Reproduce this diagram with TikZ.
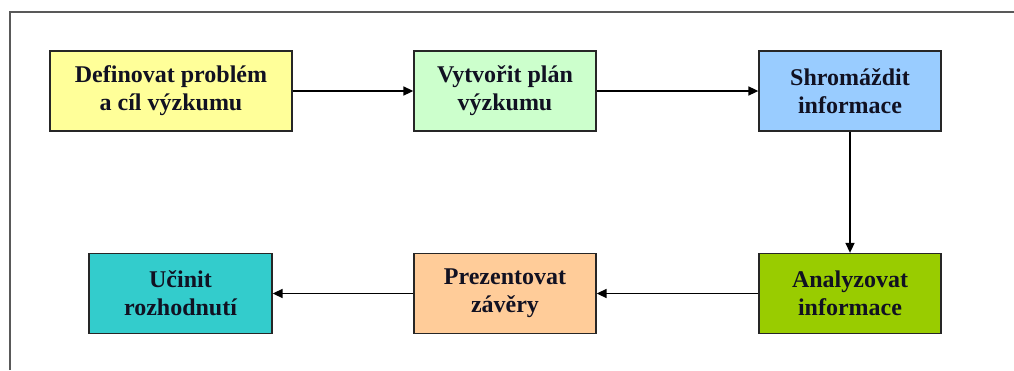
\documentclass[tikz,border=0pt]{standalone}
\usepackage{fontspec}
\setmainfont{Liberation Serif}
\usetikzlibrary{arrows.meta}
\definecolor{cyel}{HTML}{FFFF99}
\definecolor{cgrn}{HTML}{CCFFCC}
\definecolor{cblu}{HTML}{99CCFF}
\definecolor{colv}{HTML}{99CC00}
\definecolor{cpch}{HTML}{FFCC99}
\definecolor{ctea}{HTML}{33CCCC}
\definecolor{ctxt}{HTML}{111122}
\tikzset{
  stepbox/.style={draw=black!85, line width=1.3pt, rectangle, minimum height=80pt,
    inner sep=0pt, align=center, text=ctxt,
    font=\fontsize{24pt}{28pt}\selectfont\bfseries},
  flow/.style={draw=black, line width=1.6pt, -{Triangle[length=10pt,width=9pt]}},
}
\begin{document}
\begin{tikzpicture}[x=1pt,y=-1pt]
\useasboundingbox (0,0) rectangle (1014,370);
\fill[white] (0,0) rectangle (1014,370);
\draw[draw=black!65, line width=1.5pt] (10,370) -- (10,12) -- (1014,12);
\node[stepbox, fill=cyel, minimum width=242pt] (a) at (171,91) {Definovat problém\\a cíl výzkumu};
\node[stepbox, fill=cgrn, minimum width=182pt] (b) at (505,91) {Vytvořit plán\\výzkumu};
\node[stepbox, fill=cblu, minimum width=182pt] (c) at (850,91) {Shromáždit\\informace};
\node[stepbox, fill=colv, minimum width=182pt] (d) at (850,293.5) {Analyzovat\\informace};
\node[stepbox, fill=cpch, minimum width=182pt] (e) at (505,293.5) {Prezentovat\\závěry};
\node[stepbox, fill=ctea, minimum width=183pt] (f) at (180.5,293.5) {Učinit\\rozhodnutí};
\draw[flow] (a) -- (b);
\draw[flow] (b) -- (c);
\draw[flow] (c) -- (d);
\draw[flow] (d) -- (e);
\draw[flow] (e) -- (f);
\end{tikzpicture}
\end{document}
